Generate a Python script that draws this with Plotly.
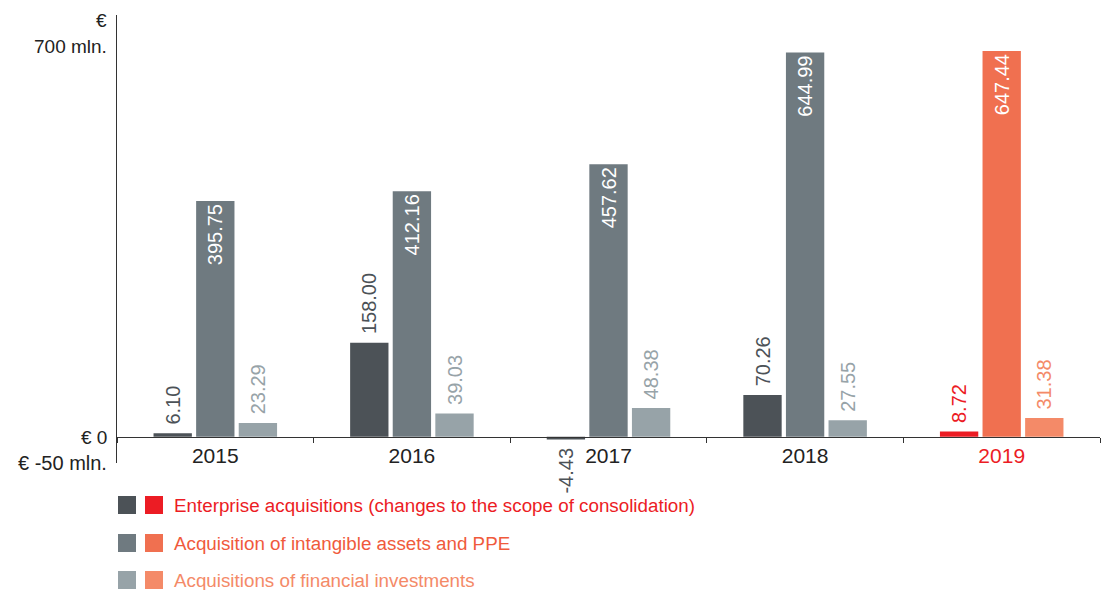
import plotly.graph_objects as go

years = ['2015', '2016', '2017', '2018', '2019']
enterprise = [6.10, 158.00, -4.43, 70.26, 8.72]
intangible = [395.75, 412.16, 457.62, 644.99, 647.44]
financial = [23.29, 39.03, 48.38, 27.55, 31.38]
legend_names = ['Enterprise acquisitions (changes to the scope of consolidation)',
                'Acquisition of intangible assets and PPE',
                'Acquisitions of financial investments']

grays = ['#4c5257', '#6f7a80', '#97a3a8']
reds = ['#ec1c24', '#f07050', '#f48a68']
legend_text = ['#ec1c24', '#f05a3c', '#f48a68']

W, H = 1106, 590
ML, MR, MT, MB = 117, 6, 15, 127
ymin, ymax = -44, 708
FONT = 'Liberation Sans, Arial, Helvetica, sans-serif'
NB = '\u00a0'


def px_x(x):
    return (x - ML) / (W - ML - MR)


def px_y(y):
    return (H - MB - y) / (H - MT - MB)


def label(v, inside):
    s = '%.2f' % v
    if inside:
        return s
    # a little padding between the bar end and an outside label
    return s + NB if v < 0 else NB + s


def series_trace(vals, i, inside_min):
    colors = [grays[i]] * (len(vals) - 1) + [reds[i]]
    inside = [v >= inside_min for v in vals]
    pos = ['inside' if f else 'outside' for f in inside]
    out_colors = colors if i != 1 else ['white'] * len(vals)
    return go.Bar(x=years, y=vals, marker_color=colors, marker_line_width=0,
                  text=[label(v, f) for v, f in zip(vals, inside)], textposition=pos,
                  textangle=-90, insidetextanchor='end', constraintext='none',
                  insidetextfont=dict(color='white', size=20, family=FONT),
                  outsidetextfont=dict(color=out_colors, size=20, family=FONT),
                  cliponaxis=False, showlegend=False, hoverinfo='x+y')


fig = go.Figure()
fig.add_trace(series_trace(enterprise, 0, 1000))
fig.add_trace(series_trace(intangible, 1, 200))
fig.add_trace(series_trace(financial, 2, 1000))

ticktext = years[:-1] + ["<span style='color:#ec1c24'>%s</span>" % years[-1]]

fig.update_layout(
    width=W, height=H, margin=dict(l=ML, r=MR, t=MT, b=MB),
    paper_bgcolor='white', plot_bgcolor='white',
    barmode='group', bargap=0.35, bargroupgap=0.1,
    font=dict(family=FONT, size=19, color='#222222'),
    xaxis=dict(anchor='free', position=(0 - ymin) / (ymax - ymin),
               showline=True, linecolor='#333333', linewidth=1,
               ticks='outside', ticklen=5, tickcolor='#333333', tickson='boundaries',
               tickvals=years, ticktext=ticktext, showgrid=False,
               tickfont=dict(size=21, color='#222222')),
    yaxis=dict(range=[ymin, ymax], showline=True, linecolor='#333333', linewidth=1,
               showticklabels=False, ticks='', showgrid=False, zeroline=False),
)

# y axis labels
ylabels = [('€ 0', px_y(437), 19), ('€ -50 mln.', px_y(463), 20),
           ('€', px_y(21), 19), ('700 mln.', px_y(47), 19)]
for txt, yy, sz in ylabels:
    fig.add_annotation(text=txt, xref='paper', yref='paper', x=0, y=yy,
                       xanchor='right', yanchor='middle', xshift=-8, showarrow=False,
                       font=dict(size=sz, color='#222222'))

# custom legend with gray + colour swatches
rows = [505, 543, 580]
for i, name in enumerate(legend_names):
    yc = rows[i]
    fig.add_shape(type='rect', xref='paper', yref='paper',
                  x0=px_x(118), x1=px_x(136), y0=px_y(yc - 9), y1=px_y(yc + 9),
                  fillcolor=grays[i], line_width=0)
    fig.add_shape(type='rect', xref='paper', yref='paper',
                  x0=px_x(145), x1=px_x(163), y0=px_y(yc - 9), y1=px_y(yc + 9),
                  fillcolor=reds[i], line_width=0)
    fig.add_annotation(text=name, xref='paper', yref='paper', x=px_x(172), y=px_y(yc),
                       xanchor='left', yanchor='middle', showarrow=False,
                       font=dict(size=18.8, color=legend_text[i]))

fig.write_html('out.html', config={'displayModeBar': False},
               post_script="document.body.style.margin='0px';")
